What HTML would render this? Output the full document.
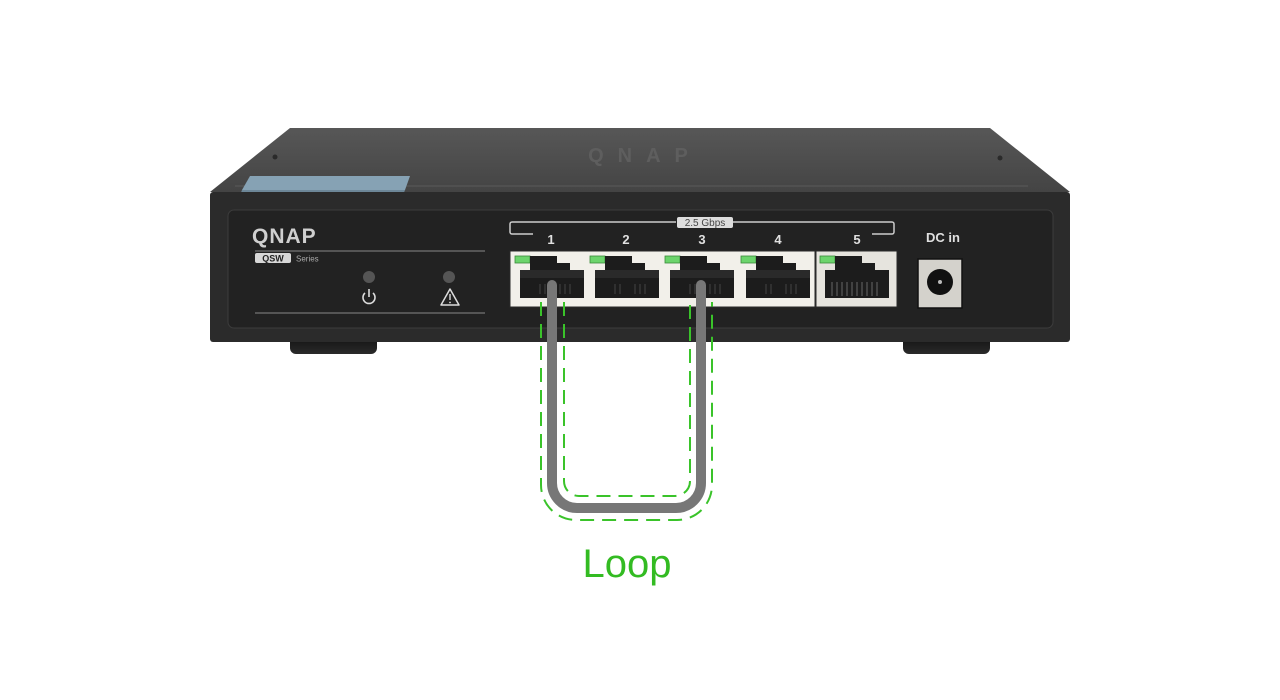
<!DOCTYPE html>
<html><head><meta charset="utf-8"><style>
html,body{margin:0;padding:0;background:#fff;width:1280px;height:700px;overflow:hidden}
svg{display:block}
text{font-family:"Liberation Sans",sans-serif}
</style></head><body>
<svg width="1280" height="700" viewBox="0 0 1280 700" xmlns="http://www.w3.org/2000/svg">
<defs>
<linearGradient id="top" x1="0" y1="0" x2="0" y2="1"><stop offset="0" stop-color="#575757"/><stop offset="1" stop-color="#444"/></linearGradient>
<linearGradient id="foot" x1="0" y1="0" x2="0" y2="1"><stop offset="0" stop-color="#111"/><stop offset="1" stop-color="#2a2a2a"/></linearGradient>
</defs>
<rect x="290" y="336" width="87" height="18" rx="6" fill="url(#foot)"/>
<rect x="903" y="336" width="87" height="18" rx="6" fill="url(#foot)"/>
<polygon points="290,128 990,128 1070,192 210,192" fill="url(#top)"/>
<line x1="235" y1="186" x2="1028" y2="186" stroke="#5a5a5a" stroke-width="1"/>
<text x="645" y="162" font-size="20" font-weight="bold" fill="#5e5e5e" text-anchor="middle" letter-spacing="14">QNAP</text>
<circle cx="275" cy="157" r="2.5" fill="#2a2a2a"/>
<circle cx="1000" cy="158" r="2.5" fill="#2a2a2a"/>
<polygon points="250,176 410,176 405,190 242,190" fill="#86a2b4"/>
<polygon points="242,190 405,190 403,195 240,195" fill="#6d8798"/>
<rect x="210" y="192" width="860" height="150" rx="3" fill="#2b2b2b"/>
<rect x="228" y="210" width="825" height="118" rx="6" fill="#222" stroke="#3c3c3c" stroke-width="1"/>
<text x="252" y="243" font-size="21" font-weight="bold" fill="#cfcfcf" letter-spacing="1">QNAP</text>
<line x1="255" y1="251" x2="485" y2="251" stroke="#888" stroke-width="1"/>
<rect x="255" y="253" width="36" height="10" rx="2" fill="#d8d8d8"/>
<text x="273" y="261.5" font-size="9" font-weight="bold" fill="#222" text-anchor="middle">QSW</text>
<text x="296" y="261.5" font-size="8" fill="#aaa">Series</text>
<circle cx="369" cy="277" r="6" fill="#555"/>
<circle cx="449" cy="277" r="6" fill="#555"/>
<path d="M365,293 a6,6 0 1 0 8,0" fill="none" stroke="#ddd" stroke-width="1.6"/>
<line x1="369" y1="289" x2="369" y2="297" stroke="#ddd" stroke-width="1.6"/>
<polygon points="450,289 459,305 441,305" fill="none" stroke="#ddd" stroke-width="1.5" stroke-linejoin="round"/>
<line x1="450" y1="294" x2="450" y2="300" stroke="#ddd" stroke-width="1.4"/>
<circle cx="450" cy="302.5" r="0.9" fill="#ddd"/>
<line x1="255" y1="313" x2="485" y2="313" stroke="#888" stroke-width="1"/>
<path d="M533,234 H512 a2,2 0 0 1 -2,-2 V224 a2,2 0 0 1 2,-2 H676 M733,222 H892 a2,2 0 0 1 2,2 V232 a2,2 0 0 1 -2,2 H872" fill="none" stroke="#ccc" stroke-width="1.5"/>
<rect x="677" y="217" width="56" height="11" rx="2" fill="#ddd"/>
<text x="705" y="226" font-size="10" fill="#444" text-anchor="middle">2.5 Gbps</text>
<g font-size="13" font-weight="bold" fill="#e0e0e0" text-anchor="middle">
<text x="551" y="244">1</text><text x="626" y="244">2</text><text x="702" y="244">3</text><text x="778" y="244">4</text><text x="857" y="244">5</text>
<text x="943" y="242">DC in</text>
</g>
<rect x="510" y="251" width="305" height="56" fill="#f2f0ea" stroke="#2a2a2a" stroke-width="1"/>
<rect x="816" y="251" width="81" height="56" fill="#e6e4de" stroke="#2a2a2a" stroke-width="1"/>
<g id="p">
<rect x="515" y="256" width="15" height="7" fill="#6cd46c" stroke="#3a8a3a" stroke-width="0.8"/>
<path d="M530,256 H557 V263 H570 V270 H584 V298 H520 V270 H530 Z" fill="#1c1c1c"/>
<rect x="520" y="270" width="64" height="8" fill="#2a2a2a"/>
<g stroke="#444" stroke-width="1"><line x1="540" y1="284" x2="540" y2="294"/><line x1="545" y1="284" x2="545" y2="294"/><line x1="560" y1="284" x2="560" y2="294"/><line x1="565" y1="284" x2="565" y2="294"/><line x1="570" y1="284" x2="570" y2="294"/></g>
</g>
<use href="#p" x="75"/><use href="#p" x="150"/><use href="#p" x="226"/>
<rect x="820" y="256" width="15" height="7" fill="#6cd46c" stroke="#3a8a3a" stroke-width="0.8"/>
<path d="M835,256 H862 V263 H875 V270 H889 V298 H825 V270 H835 Z" fill="#1c1c1c"/>
<g stroke="#666" stroke-width="1"><line x1="832" y1="282" x2="832" y2="296"/><line x1="837" y1="282" x2="837" y2="296"/><line x1="842" y1="282" x2="842" y2="296"/><line x1="847" y1="282" x2="847" y2="296"/><line x1="852" y1="282" x2="852" y2="296"/><line x1="857" y1="282" x2="857" y2="296"/><line x1="862" y1="282" x2="862" y2="296"/><line x1="867" y1="282" x2="867" y2="296"/><line x1="872" y1="282" x2="872" y2="296"/><line x1="877" y1="282" x2="877" y2="296"/></g>
<rect x="918" y="259" width="44" height="49" fill="#d4d2cc" stroke="#111" stroke-width="1.5"/>
<circle cx="940" cy="282" r="13" fill="#111"/>
<circle cx="940" cy="282" r="2" fill="#bbb"/>
<path d="M541,302 V485 a35,35 0 0 0 35,35 H677 a35,35 0 0 0 35,-35 V302" fill="none" stroke="#3ac32a" stroke-width="2" stroke-dasharray="14,8"/>
<path d="M564,302 V481 a15,15 0 0 0 15,15 H675 a15,15 0 0 0 15,-15 V302" fill="none" stroke="#3ac32a" stroke-width="2" stroke-dasharray="14,8"/>
<path d="M552,285 V483 a25,25 0 0 0 25,25 H676 a25,25 0 0 0 25,-25 V285" fill="none" stroke="#777" stroke-width="10" stroke-linecap="round"/>
<text x="627" y="577" font-size="40" fill="#33bb22" text-anchor="middle">Loop</text>
</svg>
</body></html>
